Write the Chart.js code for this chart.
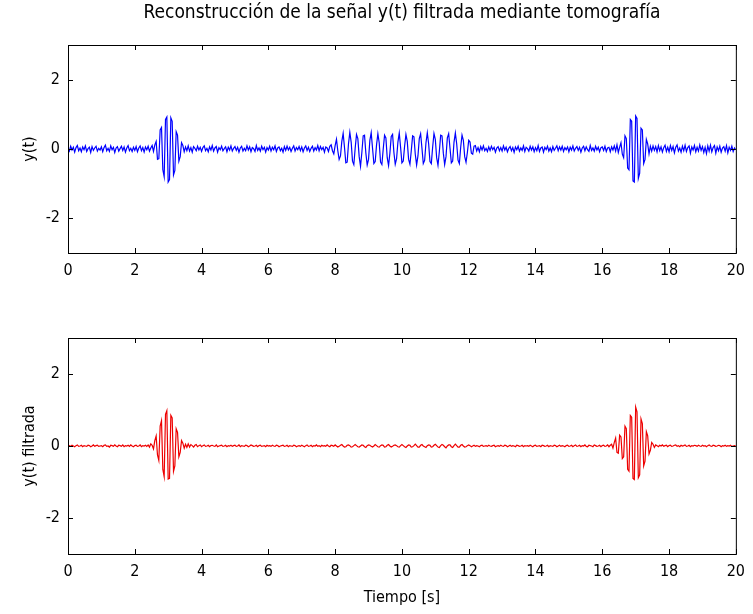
<!DOCTYPE html>
<html>
<head>
<meta charset="utf-8">
<script src="https://cdn.jsdelivr.net/npm/chart.js@4/dist/chart.umd.min.js"></script>
<style>
  body { margin: 0; background: #fff; }
  #wrap { position: relative; width: 753px; height: 614px; }
  canvas { position: absolute; left: 0; }
</style>
</head>
<body>
<div id="wrap">
  <canvas id="topChart" width="753" height="300" style="top:0"></canvas>
  <canvas id="botChart" width="753" height="314" style="top:300px"></canvas>
</div>
<script>
const FONT = "'DejaVu Sans Condensed', 'Liberation Sans Narrow', 'Liberation Sans', Arial, sans-serif";

// sampling step inside each one-second row
const dt = 0.04;
const xTicks = [0, 2, 4, 6, 8, 10, 12, 14, 16, 18, 20];
const yTicks = [-2, 0, 2];

// y(t), one row per second (25 samples each), last row is t = 20
const ySignal = [
  [0.02,-0.06,0.08,-0.03,0.05,-0.09,0.04,0.10,-0.05,0.03,-0.08,0.06,-0.02,0.09,-0.07,0.01,0.05,-0.10,0.07,-0.04,0.03,0.08,-0.06,0.02,-0.03],
  [0.06,-0.08,0.04,0.11,-0.05,0.02,-0.07,0.09,-0.02,0.05,-0.10,0.03,0.07,-0.06,0.01,0.08,-0.04,0.06,-0.09,0.03,0.10,-0.05,0.02,-0.07,0.05],
  [-0.04,0.07,-0.08,0.03,0.09,-0.05,0.04,-0.09,0.06,-0.02,0.08,-0.06,0.03,0.10,-0.07,0.12,0.22,-0.30,-0.28,0.55,0.62,-0.60,-0.80,0.85,0.92],
  [-0.95,-0.88,0.90,0.80,-0.75,-0.62,0.50,0.40,-0.35,-0.22,0.18,0.10,-0.08,0.06,-0.05,0.09,-0.06,0.04,-0.09,0.07,0.02,-0.05,0.08,-0.03,0.05],
  [-0.07,0.04,0.09,-0.05,0.02,-0.08,0.06,-0.03,0.10,-0.06,0.03,0.07,-0.09,0.04,-0.02,0.08,-0.05,0.01,0.06,-0.08,0.05,-0.03,0.09,-0.06,0.02],
  [0.07,-0.04,0.05,-0.09,0.03,0.08,-0.06,0.02,-0.05,0.09,-0.03,0.06,-0.08,0.04,0.01,-0.07,0.10,-0.04,0.03,-0.06,0.08,-0.02,0.05,-0.09,0.04],
  [-0.03,0.08,-0.06,0.05,-0.02,0.09,-0.07,0.03,0.06,-0.05,0.02,-0.09,0.07,-0.04,0.08,-0.03,0.05,-0.07,0.02,0.09,-0.06,0.04,-0.02,0.07,-0.05],
  [0.06,-0.08,0.03,0.09,-0.04,0.05,-0.07,0.02,0.08,-0.06,0.04,-0.03,0.10,-0.05,0.07,-0.02,0.05,-0.09,0.06,0.03,-0.07,0.08,0.12,-0.05,-0.14],
  [0.10,0.28,-0.05,-0.30,-0.20,0.22,0.45,0.05,-0.40,-0.38,0.15,0.48,0.20,-0.35,-0.45,0.02,0.42,0.30,-0.22,-0.50,-0.10,0.38,0.40,-0.12,-0.46],
  [-0.30,0.25,0.47,0.02,-0.42,-0.36,0.12,0.44,0.18,-0.38,-0.45,0.00,0.40,0.32,-0.25,-0.48,-0.12,0.36,0.42,-0.10,-0.44,-0.28,0.20,0.46,0.05],
  [-0.40,-0.35,0.08,0.42,0.22,-0.30,-0.44,-0.05,0.38,0.35,-0.15,-0.46,-0.20,0.30,0.44,0.02,-0.42,-0.33,0.18,0.47,0.15,-0.36,-0.42,0.05,0.45],
  [0.28,-0.25,-0.47,-0.08,0.40,0.38,-0.12,-0.45,-0.22,0.32,0.44,0.02,-0.40,-0.35,0.20,0.46,0.15,-0.32,-0.42,0.05,0.40,0.25,-0.22,-0.38,-0.10],
  [0.25,0.20,-0.12,-0.15,0.08,0.10,-0.06,0.04,-0.08,0.07,-0.03,0.09,-0.05,0.02,-0.07,0.06,-0.04,0.08,-0.02,0.05,-0.09,0.03,0.07,-0.05,0.04],
  [-0.06,0.09,-0.03,0.05,-0.08,0.02,0.07,-0.05,0.04,-0.10,0.06,-0.02,0.08,-0.06,0.03,-0.04,0.09,-0.07,0.05,0.01,-0.06,0.08,-0.03,0.06,-0.08],
  [0.04,-0.05,0.10,-0.07,0.03,0.06,-0.09,0.05,-0.02,0.08,-0.06,0.03,-0.08,0.07,-0.04,0.02,0.09,-0.05,0.06,-0.03,0.08,-0.07,0.04,-0.02,0.06],
  [-0.08,0.05,-0.03,0.09,-0.06,0.02,0.07,-0.04,0.05,-0.09,0.03,0.08,-0.05,0.06,-0.02,-0.07,0.10,-0.04,0.03,-0.06,0.08,-0.03,0.05,-0.08,0.04],
  [0.06,-0.04,0.08,-0.07,0.03,0.05,-0.08,0.06,-0.03,0.09,-0.06,0.12,-0.10,0.05,0.18,-0.15,-0.25,0.38,0.30,-0.55,-0.60,0.85,0.80,-0.92,-0.95],
  [0.95,0.88,-0.85,-0.70,0.60,0.55,-0.42,-0.30,0.28,0.15,-0.14,0.08,-0.06,0.09,-0.04,0.07,-0.08,0.10,-0.05,0.06,-0.09,0.04,0.11,-0.07,0.05],
  [-0.08,0.10,-0.04,0.07,-0.11,0.05,0.12,-0.06,0.03,-0.09,0.08,-0.05,0.11,-0.07,0.04,0.09,-0.12,0.06,-0.03,0.10,-0.08,0.05,-0.06,0.12,-0.04],
  [0.07,-0.10,0.05,-0.13,0.09,-0.06,0.11,-0.08,0.04,0.10,-0.12,0.06,-0.05,0.08,-0.09,0.03,0.07,-0.06,0.10,-0.11,0.05,-0.04,0.08,-0.07,0.03],
  [-0.02]
];

// y(t) filtrada, same sampling
const yFiltered = [
  [0.00,0.01,-0.01,0.02,0.00,-0.02,0.01,0.03,-0.01,0.00,0.02,-0.02,0.01,0.00,-0.01,0.02,0.01,-0.02,0.00,0.03,-0.01,0.01,0.02,-0.01,0.00],
  [0.01,-0.02,0.02,0.03,-0.01,0.00,-0.03,0.02,0.01,-0.01,0.03,0.00,-0.02,0.02,0.01,-0.01,0.03,-0.02,0.01,0.00,0.02,-0.01,0.03,0.00,-0.02],
  [0.01,0.02,-0.01,0.00,0.03,-0.02,0.01,0.00,0.02,-0.01,0.03,-0.03,0.06,0.02,-0.08,0.15,0.28,-0.25,-0.40,0.55,0.70,-0.65,-0.85,0.88,0.98],
  [-0.92,-0.90,0.85,0.78,-0.70,-0.55,0.48,0.38,-0.30,-0.18,0.15,0.08,-0.06,0.05,-0.04,0.06,-0.03,0.04,0.01,-0.03,0.02,0.04,-0.02,0.01,0.03],
  [-0.02,0.01,0.03,-0.01,0.00,0.02,-0.02,0.01,0.02,0.00,-0.01,0.03,-0.02,0.00,0.01,0.02,-0.01,0.00,0.02,-0.02,0.01,0.00,0.02,-0.01,0.01],
  [0.02,-0.01,0.00,0.03,-0.02,0.01,0.00,-0.01,0.02,0.01,-0.02,0.00,0.03,0.01,-0.01,0.00,0.02,-0.02,0.01,0.02,-0.01,0.00,0.01,-0.02,0.02],
  [0.00,0.01,-0.01,0.02,0.00,-0.01,0.02,0.01,-0.02,0.00,0.01,0.02,-0.01,0.00,0.02,-0.02,0.01,0.00,-0.01,0.02,0.01,-0.02,0.00,0.01,-0.01],
  [0.02,0.00,-0.02,0.01,0.03,-0.01,0.00,0.02,-0.02,0.01,0.00,0.03,-0.01,0.01,-0.02,0.02,0.00,0.01,-0.01,0.03,0.00,-0.02,0.02,0.01,-0.01],
  [0.03,0.00,-0.03,-0.01,0.02,0.04,0.00,-0.03,-0.02,0.02,0.03,0.01,-0.03,-0.02,0.01,0.04,0.01,-0.02,-0.03,0.00,0.03,0.02,-0.02,-0.04,0.01],
  [0.03,0.02,-0.01,-0.03,0.00,0.04,0.01,-0.02,-0.03,0.01,0.03,0.02,-0.03,-0.02,0.02,0.04,0.00,-0.03,-0.01,0.02,0.03,0.01,-0.02,-0.03,0.01],
  [0.04,0.01,-0.02,-0.04,0.00,0.03,0.02,-0.03,-0.02,0.01,0.05,0.01,-0.03,-0.03,0.02,0.04,0.00,-0.02,-0.04,0.01,0.03,0.02,-0.03,-0.02,0.02],
  [0.05,0.01,-0.03,-0.04,0.01,0.04,0.02,-0.02,-0.05,0.00,0.03,0.03,-0.02,-0.04,0.01,0.05,0.01,-0.03,-0.03,0.02,0.04,0.00,-0.03,-0.02,0.01],
  [0.03,0.01,-0.02,0.00,0.02,-0.01,0.01,0.00,-0.02,0.01,0.02,-0.01,0.00,0.01,-0.01,0.02,0.00,-0.01,0.01,0.02,-0.02,0.00,0.01,-0.01,0.02],
  [0.00,-0.01,0.02,0.01,-0.02,0.00,0.02,-0.01,0.01,0.00,-0.02,0.02,0.01,-0.01,0.00,0.02,-0.02,0.01,0.00,0.01,-0.01,0.02,0.00,-0.02,0.01],
  [0.02,-0.01,0.00,0.01,-0.02,0.02,0.01,-0.01,0.00,0.02,-0.02,0.01,0.00,-0.01,0.02,0.01,-0.02,0.00,0.02,-0.01,0.01,0.00,-0.02,0.01,0.02],
  [-0.01,0.00,0.02,-0.02,0.01,0.03,-0.01,0.00,0.02,-0.02,0.01,0.00,0.03,-0.01,-0.02,0.02,0.01,0.00,-0.02,0.03,0.01,-0.01,0.00,0.02,-0.02],
  [0.01,0.02,-0.01,0.00,0.03,-0.02,0.02,0.05,-0.06,0.10,0.22,-0.18,-0.20,0.30,0.25,-0.35,-0.30,0.55,0.48,-0.65,-0.70,0.85,0.80,-0.90,-0.93],
  [1.08,0.95,-0.88,-0.80,0.75,0.62,-0.55,-0.42,0.40,0.28,-0.22,-0.12,0.10,0.05,-0.04,0.03,0.01,-0.02,0.02,0.00,0.03,-0.01,0.01,0.02,-0.02],
  [0.01,0.02,-0.01,0.00,0.02,0.03,-0.01,0.01,-0.02,0.02,0.00,0.01,0.03,-0.01,0.00,0.02,-0.02,0.01,0.00,0.02,0.01,-0.01,0.02,0.00,-0.01],
  [0.02,0.00,0.01,-0.02,0.01,0.03,0.00,-0.01,0.02,0.01,-0.01,0.00,0.02,0.01,-0.02,0.01,0.00,0.02,-0.01,0.01,0.00,0.02,-0.01,0.00,0.01],
  [0.00]
];

function toPoints(rows) {
  const pts = [];
  rows.forEach((row, sec) => {
    row.forEach((v, j) => pts.push({ x: sec + j * dt, y: v }));
  });
  return pts;
}

// full box with inward ticks on all four sides, matlab style
const boxPlugin = {
  id: 'box',
  afterDraw(chart, args, opts) {
    const { ctx, chartArea: a, scales: { x, y } } = chart;
    const L = 5;
    ctx.save();
    ctx.strokeStyle = '#000';
    ctx.lineWidth = 1;
    ctx.strokeRect(a.left + 0.5, a.top + 0.5, a.right - a.left, a.bottom - a.top);
    ctx.beginPath();
    xTicks.forEach(v => {
      const px = Math.round(x.getPixelForValue(v)) + 0.5;
      ctx.moveTo(px, a.bottom); ctx.lineTo(px, a.bottom - L);
      ctx.moveTo(px, a.top); ctx.lineTo(px, a.top + L);
    });
    yTicks.forEach(v => {
      const py = Math.round(y.getPixelForValue(v)) + 0.5;
      ctx.moveTo(a.left, py); ctx.lineTo(a.left + L, py);
      ctx.moveTo(a.right, py); ctx.lineTo(a.right - L, py);
    });
    ctx.stroke();
    if (opts.title) {
      ctx.fillStyle = '#000';
      ctx.font = '19px ' + FONT;
      ctx.textAlign = 'center';
      ctx.textBaseline = 'middle';
      ctx.fillText(opts.title, (a.left + a.right) / 2, 13);
    }
    ctx.restore();
  }
};

function makeChart(id, rows, color, yLabel, cfg) {
  return new Chart(document.getElementById(id), {
    type: 'line',
    data: {
      datasets: [{
        data: toPoints(rows),
        borderColor: color,
        borderWidth: 1.2,
        pointRadius: 0,
        tension: 0,
        fill: false
      }]
    },
    options: {
      responsive: false,
      animation: false,
      layout: { padding: { top: cfg.top, right: 14, left: 0, bottom: 0 } },
      plugins: {
        legend: { display: false },
        tooltip: { enabled: false },
        box: { title: cfg.title || null }
      },
      scales: {
        x: {
          type: 'linear',
          min: 0,
          max: 20,
          afterBuildTicks: s => { s.ticks = xTicks.map(v => ({ value: v })); },
          afterFit: s => { s.height = cfg.xHeight; },
          grid: { display: false, drawTicks: false },
          border: { display: false },
          ticks: { padding: 8, color: '#000', maxRotation: 0, font: { family: FONT, size: 16 } },
          title: {
            display: !!cfg.xTitle,
            text: cfg.xTitle || '',
            color: '#000',
            font: { family: FONT, size: 16 },
            padding: { top: 0, bottom: 7 }
          }
        },
        y: {
          type: 'linear',
          min: -3,
          max: 3,
          afterBuildTicks: s => { s.ticks = yTicks.map(v => ({ value: v })); },
          afterFit: s => { s.width = 68; },
          grid: { display: false, drawTicks: false },
          border: { display: false },
          ticks: { padding: 8, color: '#000', font: { family: FONT, size: 16 } },
          title: {
            display: true,
            text: yLabel,
            color: '#000',
            font: { family: FONT, size: 16 },
            padding: { top: 20, bottom: 0 }
          }
        }
      }
    },
    plugins: [boxPlugin]
  });
}

makeChart('topChart', ySignal, '#0000ff', 'y(t)', {
  top: 45, xHeight: 47,
  title: 'Reconstrucción de la señal y(t) filtrada mediante tomografía'
});
makeChart('botChart', yFiltered, '#ee0000', 'y(t) filtrada', {
  top: 38, xHeight: 60, xTitle: 'Tiempo [s]'
});
</script>
</body>
</html>
